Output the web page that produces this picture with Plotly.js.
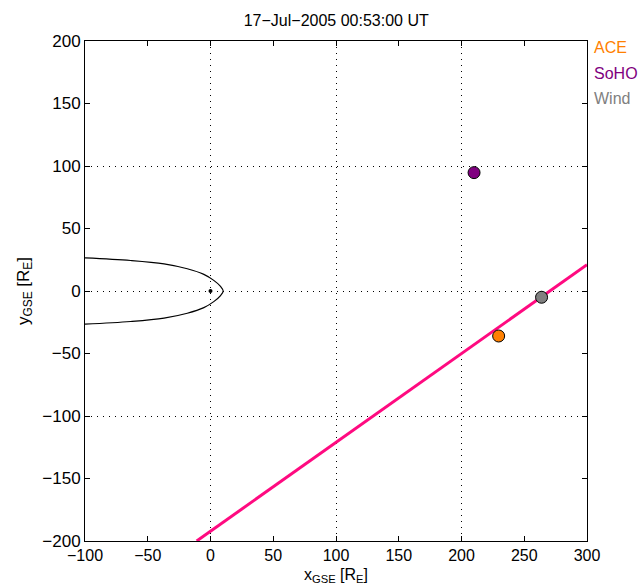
<!DOCTYPE html>
<html>
<head>
<meta charset="utf-8">
<script src="https://cdn.plot.ly/plotly-3.0.1.min.js"></script>
<style>
  html, body { margin: 0; padding: 0; background: #fff; }
  #chart { width: 638px; height: 585px; }
</style>
</head>
<body>
<div id="chart"></div>
<script>
// Spacecraft positions in GSE coordinates [R_E]
const craftNames = ['ACE', 'SoHO', 'Wind'];
const craftX = [229.6, 210.0, 263.8];
const craftY = [-36.0, 94.7, -5.0];
const craftColors = ['#ff8000', '#800080', '#808080'];

// Magnetopause boundary (upper branch, nose, lower branch)
const mpX = [-100, -63.6, -37, -18.5, -5.3, 2.6, 8, 10.1, 8, 2.6, -5.3, -18.5, -37, -63.6, -100];
const mpY = [26.5, 24.4, 21.7, 17.8, 13.3, 8.5, 3.7, 0, -3.7, -8.5, -13.3, -17.8, -21.7, -24.4, -26.5];

// Solar wind phase front line (end points)
const frontX = [-11, 300];
const frontY = [-200, 21];

// Earth
const earthX = [0];
const earthY = [0];

const titleText = '17\u2212Jul\u22122005 00:53:00 UT';
const xTitle = 'x<sub>GSE</sub> [R<sub>E</sub>]';
const yTitle = 'y<sub>GSE</sub> [R<sub>E</sub>]';
const font = { family: 'Liberation Sans, Arial, Helvetica, sans-serif', color: '#000' };

const traces = [
  // empty trace that carries the 100-step grid axes
  { x: [], y: [], xaxis: 'x2', yaxis: 'y2', type: 'scatter', mode: 'markers', showlegend: false, hoverinfo: 'skip' },
  { x: mpX, y: mpY, type: 'scatter', mode: 'lines', line: { color: '#000', width: 1.2, shape: 'spline' }, showlegend: false },
  { x: earthX, y: earthY, type: 'scatter', mode: 'markers', marker: { color: '#000', size: 4 }, showlegend: false },
  { x: frontX, y: frontY, type: 'scatter', mode: 'lines', line: { color: '#ff0a80', width: 3 }, showlegend: false },
  { x: craftX, y: craftY, text: craftNames, type: 'scatter', mode: 'markers',
    marker: { color: craftColors, size: 12, line: { color: '#000', width: 1 } }, showlegend: false }
];

const annotations = craftNames.map((n, i) => ({
  text: n, xref: 'paper', yref: 'paper', x: 1.01, y: 0.987 - i * 0.051,
  xanchor: 'left', yanchor: 'middle', showarrow: false,
  font: Object.assign({}, font, { size: 16, color: craftColors[i] })
}));

// x-axis label placed just under the tick labels
annotations.push({
  text: xTitle, xref: 'paper', yref: 'paper', x: 0.5, y: -0.046,
  xanchor: 'center', yanchor: 'top', showarrow: false,
  font: Object.assign({}, font, { size: 16 })
});

const layout = {
  width: 638, height: 585,
  margin: { l: 85, r: 51, t: 41, b: 44, pad: 0 },
  paper_bgcolor: '#fff', plot_bgcolor: '#fff',
  font: Object.assign({}, font, { size: 17 }),
  showlegend: false,
  title: { text: titleText, font: Object.assign({}, font, { size: 16 }), x: 0.527, xanchor: 'center', y: 0.965, yanchor: 'middle' },
  xaxis: {
    range: [-100, 300], dtick: 50, tick0: 0, ticks: 'inside', ticklen: 5, tickcolor: '#000',
    showgrid: false, zeroline: false, showline: true, linecolor: '#000', linewidth: 1, mirror: 'ticks',
    tickfont: Object.assign({}, font, { size: 16 })
  },
  yaxis: {
    range: [-200, 200], dtick: 50, tick0: 0, ticks: 'inside', ticklen: 5, tickcolor: '#000',
    showgrid: false, zeroline: false, showline: true, linecolor: '#000', linewidth: 1, mirror: 'ticks',
    tickfont: Object.assign({}, font, { size: 17 }),
    title: { text: yTitle, font: Object.assign({}, font, { size: 17 }), standoff: 8 }
  },
  xaxis2: {
    overlaying: 'x', range: [-100, 300], dtick: 100, tick0: 0, showticklabels: false, ticks: '',
    showgrid: true, gridcolor: '#000', gridwidth: 1, griddash: '1px,5px', zeroline: false, showline: false
  },
  yaxis2: {
    overlaying: 'y', range: [-200, 200], dtick: 100, tick0: 0, showticklabels: false, ticks: '',
    showgrid: true, gridcolor: '#000', gridwidth: 1, griddash: '1px,5px', zeroline: false, showline: false
  },
  annotations: annotations
};

Plotly.newPlot('chart', traces, layout, { displayModeBar: false, staticPlot: true });
</script>
</body>
</html>
